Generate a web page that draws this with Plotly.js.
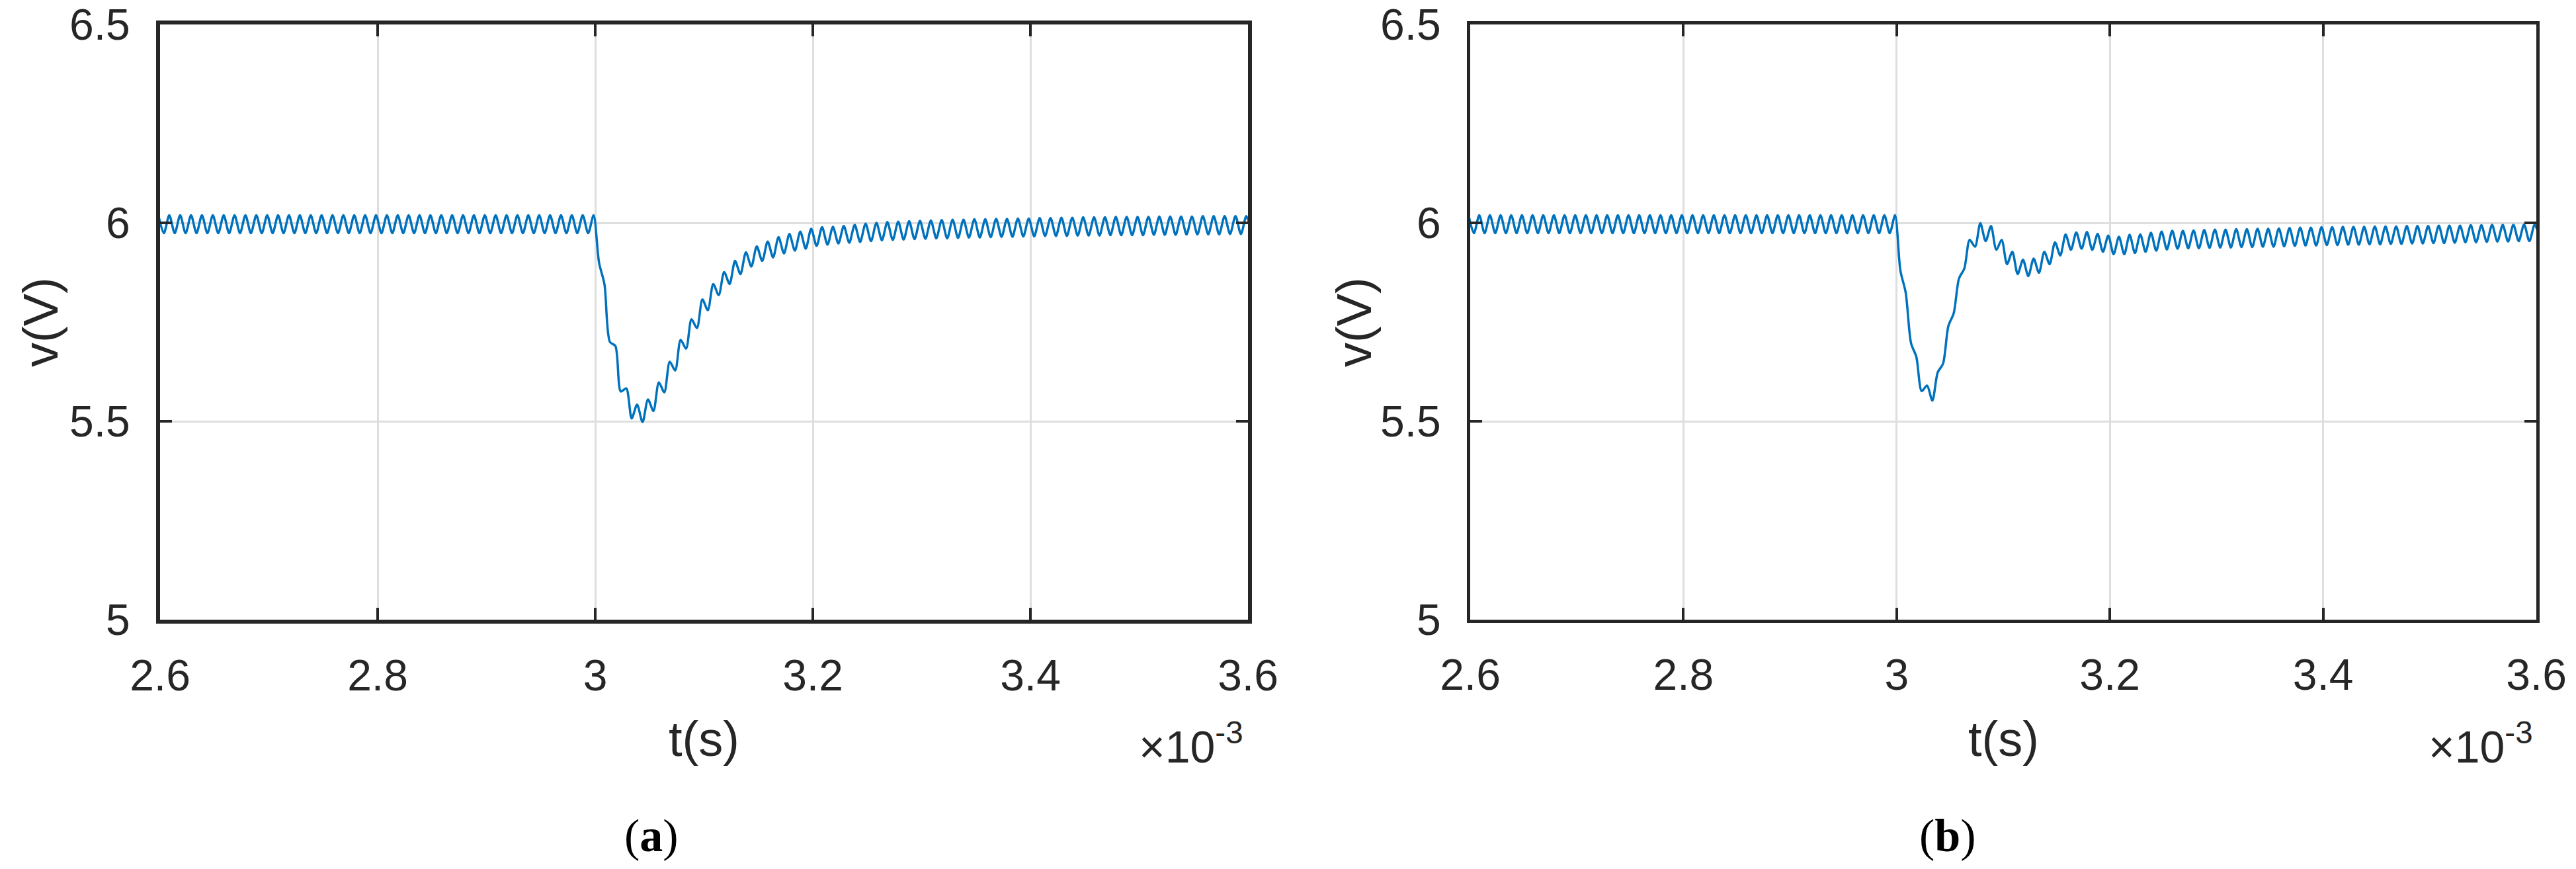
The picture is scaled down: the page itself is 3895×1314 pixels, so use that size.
<!DOCTYPE html>
<html>
<head>
<meta charset="utf-8">
<script src="https://cdn.plot.ly/plotly-3.0.1.min.js"></script>
<style>
  html, body { margin: 0; padding: 0; background: #fff; }
  #plotly { width: 3895px; height: 1314px; }
</style>
</head>
<body>
<div id="plotly"></div>
<script>
// time axis is in ms (shown as x10^-3 s), one sample every half ripple period
const T0 = 2.5985
const DT = 0.005

const xTicks = [2.6, 2.8, 3, 3.2, 3.4, 3.6]
const xTickText = ["2.6", "2.8", "3", "3.2", "3.4", "3.6"]
const yTicks = [5, 5.5, 6, 6.5]
const yTickText = ["5", "5.5", "6", "6.5"]

// (a) output voltage (peaks / troughs of the ripple)
const vA = [
  6.019, 5.974, 6.019, 5.974, 6.019, 5.974, 6.019, 5.974, 6.019, 5.974,
  6.019, 5.974, 6.019, 5.974, 6.019, 5.974, 6.019, 5.974, 6.019, 5.974,
  6.019, 5.974, 6.019, 5.974, 6.019, 5.974, 6.019, 5.974, 6.019, 5.974,
  6.019, 5.974, 6.019, 5.974, 6.019, 5.974, 6.019, 5.974, 6.019, 5.974,
  6.019, 5.974, 6.019, 5.974, 6.019, 5.974, 6.019, 5.974, 6.019, 5.974,
  6.019, 5.974, 6.019, 5.974, 6.019, 5.974, 6.019, 5.974, 6.019, 5.974,
  6.019, 5.974, 6.019, 5.974, 6.019, 5.974, 6.019, 5.974, 6.019, 5.974,
  6.019, 5.974, 6.019, 5.974, 6.019, 5.974, 6.019, 5.974, 6.019, 5.974,
  6.019,
  5.900, 5.845, 5.700, 5.690, 5.575, 5.583, 5.507, 5.542, 5.498, 5.555,
  5.526, 5.598, 5.573, 5.650, 5.628, 5.705, 5.683, 5.757, 5.735, 5.807,
  5.780, 5.846, 5.818, 5.876, 5.846, 5.904, 5.871, 5.926, 5.890, 5.941,
  5.904, 5.953, 5.913, 5.964, 5.923, 5.972, 5.930, 5.978, 5.935, 5.985,
  5.942, 5.989, 5.945, 5.990, 5.948, 5.992, 5.950,
  5.995, 5.952, 5.998, 5.954, 6.000, 5.956, 6.002, 5.957, 6.003, 5.958,
  6.004, 5.959, 6.005, 5.960, 6.006, 5.961, 6.007, 5.961, 6.008, 5.962,
  6.008, 5.963, 6.009, 5.963, 6.009, 5.964, 6.010, 5.965, 6.010, 5.965,
  6.011, 5.966, 6.011, 5.966, 6.012, 5.967, 6.012, 5.967, 6.013, 5.967,
  6.013, 5.968, 6.014, 5.968, 6.014, 5.968, 6.014, 5.969, 6.015, 5.969,
  6.015, 5.969, 6.015, 5.969, 6.015, 5.970, 6.016, 5.970, 6.016, 5.970,
  6.016, 5.971, 6.016, 5.971, 6.017, 5.971, 6.017, 5.971, 6.017, 5.972,
  6.017, 5.972, 6.017, 5.972,
]

// (b) output voltage
const vB = [
  6.019, 5.974, 6.019, 5.974, 6.019, 5.974, 6.019, 5.974, 6.019, 5.974,
  6.019, 5.974, 6.019, 5.974, 6.019, 5.974, 6.019, 5.974, 6.019, 5.974,
  6.019, 5.974, 6.019, 5.974, 6.019, 5.974, 6.019, 5.974, 6.019, 5.974,
  6.019, 5.974, 6.019, 5.974, 6.019, 5.974, 6.019, 5.974, 6.019, 5.974,
  6.019, 5.974, 6.019, 5.974, 6.019, 5.974, 6.019, 5.974, 6.019, 5.974,
  6.019, 5.974, 6.019, 5.974, 6.019, 5.974, 6.019, 5.974, 6.019, 5.974,
  6.019, 5.974, 6.019, 5.974, 6.019, 5.974, 6.019, 5.974, 6.019, 5.974,
  6.019, 5.974, 6.019, 5.974, 6.019, 5.974, 6.019, 5.974, 6.019, 5.974,
  6.019,
  5.880, 5.824, 5.697, 5.662, 5.576, 5.590, 5.552, 5.623, 5.645, 5.740,
  5.772, 5.860, 5.885, 5.957, 5.940, 5.999, 5.954, 5.992, 5.932, 5.957,
  5.896, 5.927, 5.871, 5.907, 5.866, 5.910, 5.874, 5.927, 5.896, 5.951,
  5.918, 5.971, 5.932, 5.976, 5.935, 5.977, 5.932, 5.972, 5.927, 5.968,
  5.921, 5.965, 5.921, 5.970, 5.924, 5.971, 5.927,
  5.975, 5.930, 5.978, 5.933, 5.980, 5.935, 5.980, 5.936, 5.981, 5.936,
  5.982, 5.937, 5.983, 5.938, 5.983, 5.938, 5.984, 5.939, 5.984, 5.939,
  5.985, 5.940, 5.985, 5.940, 5.986, 5.941, 5.987, 5.942, 5.988, 5.943,
  5.988, 5.943, 5.989, 5.944, 5.989, 5.944, 5.990, 5.945, 5.990, 5.945,
  5.990, 5.946, 5.991, 5.946, 5.991, 5.947, 5.991, 5.947, 5.992, 5.948,
  5.992, 5.948, 5.992, 5.949, 5.993, 5.949, 5.993, 5.950, 5.993, 5.951,
  5.994, 5.951, 5.994, 5.952, 5.995, 5.953, 5.995, 5.953, 5.995, 5.954,
  5.996, 5.954, 5.996, 5.955,
]

const PlotlyElementId = "plotly"
const LineColor = "#0072bd"
const AxisColor = "#262626"
const GridColor = "#dedede"
const W = 3895
const H = 1314

// page pixel -> paper fraction
const px = (x) => x / W
const py = (y) => 1 - y / H

function xAxis(domain, anchor, lineWidth) {
  return {
    domain: domain,
    anchor: anchor,
    range: [2.6, 3.6],
    tickmode: "array",
    tickvals: xTicks,
    ticktext: xTickText,
    ticks: "inside",
    ticklen: 18,
    tickwidth: 4,
    tickcolor: AxisColor,
    ticklabelstandoff: 22,
    showline: true,
    linecolor: AxisColor,
    linewidth: lineWidth,
    mirror: "ticks",
    showgrid: true,
    gridcolor: GridColor,
    gridwidth: 3,
    zeroline: false,
    tickfont: { size: 66, color: AxisColor },
  }
}

function yAxis(domain, anchor, lineWidth) {
  return {
    domain: domain,
    anchor: anchor,
    range: [5, 6.5],
    tickmode: "array",
    tickvals: yTicks,
    ticktext: yTickText,
    ticks: "inside",
    ticklen: 18,
    tickwidth: 4,
    tickcolor: AxisColor,
    ticklabelstandoff: 26,
    showline: true,
    linecolor: AxisColor,
    linewidth: lineWidth,
    mirror: "ticks",
    showgrid: true,
    gridcolor: GridColor,
    gridwidth: 3,
    zeroline: false,
    tickfont: { size: 66, color: AxisColor },
  }
}

function textNote(text, x, y, size, extra) {
  return Object.assign({
    text: text,
    xref: "paper", yref: "paper",
    x: px(x), y: py(y),
    xanchor: "center", yanchor: "middle",
    showarrow: false,
    font: { size: size, color: AxisColor },
  }, extra || {})
}

function setupPlotly() {
  const myPlot = document.getElementById(PlotlyElementId)
  const yDomain = [py(937), py(37)]

  // spline through the ripple peaks/troughs gives the rounded ripple of the original
  const data = [
    {
      y: vA, x0: T0, dx: DT,
      type: "scatter", mode: "lines",
      line: { color: LineColor, width: 3.5, shape: "spline", smoothing: 0.8 },
      xaxis: "x", yaxis: "y",
    },
    {
      y: vB, x0: T0, dx: DT,
      type: "scatter", mode: "lines",
      line: { color: LineColor, width: 3.5, shape: "spline", smoothing: 0.8 },
      xaxis: "x2", yaxis: "y2",
    },
  ]

  const serif = "Liberation Serif, Times New Roman, serif"

  const layout = {
    width: W,
    height: H,
    margin: { l: 0, r: 0, t: 0, b: 0 },
    paper_bgcolor: "#ffffff",
    plot_bgcolor: "#ffffff",
    showlegend: false,
    font: { family: "Liberation Sans, Arial, sans-serif", color: AxisColor },
    xaxis: xAxis([px(242), px(1887)], "y", 6),
    yaxis: yAxis(yDomain, "x", 6),
    xaxis2: xAxis([px(2223), px(3835)], "y2", 5),
    yaxis2: yAxis(yDomain, "x2", 5),
    annotations: [
      textNote("t(s)", 1064, 1117, 74),
      textNote("t(s)", 3029, 1117, 74),
      textNote("v(V)", 62, 487, 74, { textangle: -90 }),
      textNote("v(V)", 2048, 487, 74, { textangle: -90 }),
      textNote("×10<sup>-3</sup>", 1882, 1124, 68, { xanchor: "right" }),
      textNote("×10<sup>-3</sup>", 3832, 1124, 68, { xanchor: "right" }),
      textNote("(<b>a</b>)", 985, 1263, 70, { font: { size: 70, color: "#000000", family: serif } }),
      textNote("(<b>b</b>)", 2945, 1263, 70, { font: { size: 70, color: "#000000", family: serif } }),
    ],
  }

  Plotly.newPlot(myPlot, data, layout, { staticPlot: true, displayModeBar: false })
}

setupPlotly()
</script>
</body>
</html>
